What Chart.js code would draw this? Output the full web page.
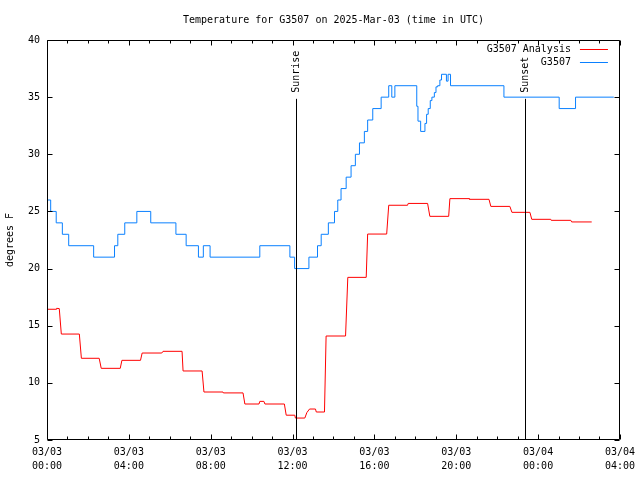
<!DOCTYPE html>
<html>
<head>
<meta charset="utf-8">
<title>Temperature for G3507</title>
<script src="https://cdn.jsdelivr.net/npm/chart.js@4.4.1/dist/chart.umd.min.js"></script>
<style>
  html, body { margin: 0; padding: 0; background: #fff; }
  canvas { display: block; }
</style>
</head>
<body>
<canvas id="temp-chart" width="640" height="480"></canvas>
<script>
  "use strict";

  // hours since 03/03 00:00 UTC
  var analysisHours = [0, 0.44, 0.47, 0.6, 0.7, 1.58, 1.68, 2.55, 2.65, 3.58, 3.66, 4.57, 4.65, 5.61, 5.67, 6.6, 6.65, 7.58, 7.67, 8.6, 8.62, 9.58, 9.67, 10.36, 10.4, 10.6, 10.65, 11.6, 11.69, 12.11, 12.14, 12.6, 12.7, 12.83, 13.12, 13.16, 13.56, 13.64, 14.59, 14.7, 15.6, 15.67, 16.6, 16.7, 17.62, 17.65, 18.6, 18.71, 19.63, 19.69, 20.63, 20.65, 21.6, 21.69, 22.62, 22.72, 23.6, 23.69, 24.62, 24.64, 25.6, 25.64, 26.62];
  var analysisTemps = [16.44, 16.44, 16.52, 16.5, 14.27, 14.27, 12.15, 12.15, 11.27, 11.27, 11.97, 11.97, 12.61, 12.61, 12.76, 12.76, 11.04, 11.04, 9.2, 9.2, 9.12, 9.12, 8.15, 8.15, 8.38, 8.38, 8.15, 8.15, 7.17, 7.17, 6.92, 6.92, 7.4, 7.71, 7.71, 7.45, 7.45, 14.1, 14.1, 19.23, 19.23, 23.02, 23.02, 25.54, 25.54, 25.7, 25.7, 24.57, 24.57, 26.12, 26.12, 26.06, 26.06, 25.44, 25.44, 24.92, 24.92, 24.31, 24.31, 24.22, 24.22, 24.08, 24.08];

  var obsHours = [0, 0.18, 0.45, 0.75, 1.06, 2.28, 3.3, 3.46, 3.8, 4.39, 5.07, 6.3, 6.8, 7.4, 7.64, 7.97, 10.4, 11.87, 12.1, 12.8, 13.22, 13.4, 13.75, 14.05, 14.21, 14.37, 14.62, 14.86, 15.07, 15.27, 15.51, 15.67, 15.92, 16.33, 16.7, 16.85, 17.0, 18.07, 18.13, 18.26, 18.47, 18.55, 18.63, 18.73, 18.81, 18.93, 19.01, 19.09, 19.2, 19.28, 19.52, 19.6, 19.72, 22.33, 25.03, 25.83, 27.7];
  var obsTemps = [26, 25, 24, 23, 22, 21, 22, 23, 24, 25, 24, 23, 22, 21, 22, 21, 22, 21, 20, 21, 22, 23, 24, 25, 26, 27, 28, 29, 30, 31, 32, 33, 34, 35, 36, 35, 36, 34.2, 32.9, 32, 32.7, 33.5, 34, 34.7, 35, 35.4, 35.9, 36, 36.5, 37, 36.4, 37, 36, 35, 34, 35, 35];

  var xTickLabels = [["03/03", "00:00"], ["03/03", "04:00"], ["03/03", "08:00"], ["03/03", "12:00"],
                     ["03/03", "16:00"], ["03/03", "20:00"], ["03/04", "00:00"], ["03/04", "04:00"]];

  var sunEvents = [{ label: "Sunrise", hour: 12.15 }, { label: "Sunset", hour: 23.37 }];

  function toPoints(xs, ys) {
    return xs.map(function (x, i) { return { x: x, y: ys[i] }; });
  }

  var FONT = "'DejaVu Sans Mono', 'Liberation Mono', monospace";
  Chart.defaults.font.family = FONT;
  Chart.defaults.font.size = 10;
  Chart.defaults.color = "#000";

  // gnuplot-ish frame: box, inward ticks, sunrise/sunset marks, legend
  var frame = {
    id: "frame",
    afterDatasetsDraw: function (chart) {
      var ctx = chart.ctx, ca = chart.chartArea;
      var xs = chart.scales.x, ys = chart.scales.y;
      var L = Math.round(ca.left) + 0.5, R = Math.round(ca.right) - 0.5;
      var T = Math.round(ca.top) + 0.5, B = Math.round(ca.bottom) - 0.5;
      ctx.save();
      ctx.strokeStyle = "#000";
      ctx.lineWidth = 1;
      ctx.beginPath();
      ctx.rect(L, T, R - L, B - T);
      for (var h = xs.min; h <= xs.max; h++) {
        var px = Math.round(xs.getPixelForValue(h)) + 0.5;
        var len = h % 4 === 0 ? 5 : 3;
        ctx.moveTo(px, B); ctx.lineTo(px, B - len);
        ctx.moveTo(px, T); ctx.lineTo(px, T + len);
      }
      ys.ticks.forEach(function (t) {
        var py = Math.round(ys.getPixelForValue(t.value)) + 0.5;
        ctx.moveTo(L, py); ctx.lineTo(L + 5, py);
        ctx.moveTo(R, py); ctx.lineTo(R - 5, py);
      });
      ctx.stroke();

      ctx.fillStyle = "#000";
      ctx.font = "10px " + FONT;
      var lineTop = ys.getPixelForValue(34.85);
      sunEvents.forEach(function (ev) {
        var sx = Math.round(xs.getPixelForValue(ev.hour)) + 0.5;
        ctx.beginPath();
        ctx.moveTo(sx, lineTop); ctx.lineTo(sx, B);
        ctx.stroke();
        ctx.save();
        ctx.translate(sx, lineTop - 6);
        ctx.rotate(-Math.PI / 2);
        ctx.textAlign = "left";
        ctx.textBaseline = "middle";
        ctx.fillText(ev.label, 0, 0);
        ctx.restore();
      });

      chart.data.datasets.forEach(function (ds, i) {
        var ly = Math.round(ca.top + 9 + i * 13) + 0.5;
        ctx.textAlign = "right";
        ctx.textBaseline = "middle";
        ctx.fillText(ds.label, ca.right - 49, ly);
        ctx.beginPath();
        ctx.strokeStyle = ds.borderColor;
        ctx.moveTo(ca.right - 40, ly); ctx.lineTo(ca.right - 12, ly);
        ctx.stroke();
      });
      ctx.restore();
    }
  };

  var ctx = document.getElementById("temp-chart").getContext("2d");
  var tempChart = new Chart(ctx, {
    type: "line",
    data: {
      datasets: [
        {
          label: "G3507 Analysis",
          data: toPoints(analysisHours, analysisTemps),
          borderColor: "#ff0000",
          borderWidth: 1,
          pointRadius: 0,
          tension: 0
        },
        {
          label: "G3507",
          data: toPoints(obsHours, obsTemps),
          borderColor: "#0a80ff",
          borderWidth: 1,
          pointRadius: 0,
          stepped: true
        }
      ]
    },
    options: {
      responsive: false,
      animation: false,
      layout: { padding: { left: 0, right: 19, top: 0, bottom: 0 } },
      plugins: {
        legend: { display: false },
        tooltip: { enabled: false },
        title: {
          display: true,
          fullSize: false,
          text: "Temperature for G3507 on 2025-Mar-03 (time in UTC)",
          font: { family: FONT, size: 10, weight: "normal" },
          color: "#000",
          padding: { top: 14, bottom: 14 }
        }
      },
      scales: {
        x: {
          type: "linear",
          min: 0,
          max: 28,
          grid: { display: false, drawTicks: false },
          border: { display: false },
          afterFit: function (scale) { scale.height = 40; },
          ticks: {
            stepSize: 4,
            padding: 5,
            maxRotation: 0,
            autoSkip: false,
            font: { family: FONT, size: 10, lineHeight: 1.4 },
            callback: function (v) { return xTickLabels[v / 4]; }
          }
        },
        y: {
          min: 5,
          max: 40,
          grid: { display: false, drawTicks: false },
          border: { display: false },
          afterFit: function (scale) { scale.width = 47; },
          title: {
            display: true,
            text: "degrees F",
            font: { family: FONT, size: 10 },
            padding: { top: 4, bottom: 0 }
          },
          ticks: { stepSize: 5, padding: 7 }
        }
      }
    },
    plugins: [frame]
  });
</script>
</body>
</html>
